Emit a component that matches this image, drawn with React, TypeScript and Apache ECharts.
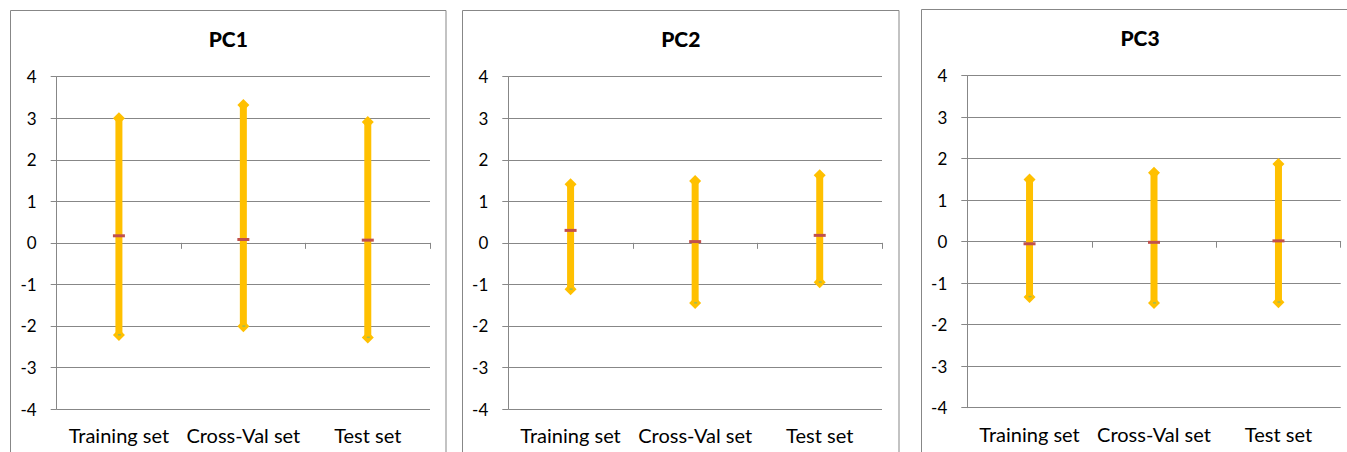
import React, { useEffect, useRef } from "react";
import * as echarts from "echarts";

const categories = ["Training set", "Cross-Val set", "Test set"];
const panelTitles = ["PC1", "PC2", "PC3"];

const pc1High = [3.0, 3.32, 2.91];
const pc1Low = [-2.22, -2.01, -2.28];
const pc1Mean = [0.17, 0.08, 0.065];

const pc2High = [1.41, 1.49, 1.63];
const pc2Low = [-1.12, -1.45, -0.95];
const pc2Mean = [0.3, 0.03, 0.18];

const pc3High = [1.5, 1.66, 1.87];
const pc3Low = [-1.33, -1.48, -1.46];
const pc3Mean = [-0.05, -0.015, 0.02];

const yTicksMin = -4;
const yTicksMax = 4;

const FONT = "Lato, 'Open Sans', sans-serif";
const GRAY = "#878787";

export default function App() {
  const ref = useRef<HTMLDivElement>(null);

  useEffect(() => {
    if (!ref.current) return;
    const chart = echarts.init(ref.current, undefined, { renderer: "svg" });

    const panels = [
      { high: pc1High, low: pc1Low, mean: pc1Mean },
      { high: pc2High, low: pc2Low, mean: pc2Mean },
      { high: pc3High, low: pc3Low, mean: pc3Mean },
    ];

    const gridBoxes = [
      { left: 56.7, top: 76.7, width: 373.3, height: 332.3 },
      { left: 508.3, top: 76.7, width: 373.7, height: 332.3 },
      { left: 967.3, top: 75.7, width: 373.4, height: 332 },
    ];
    const borders = [
      { x: 10.5, y: 10.5, width: 435.5 },
      { x: 462.5, y: 10.5, width: 436.5 },
      { x: 921.5, y: 9.5, width: 437 },
    ];

    const grid = gridBoxes.map((g) => ({ ...g, containLabel: false }));

    const xAxis: any[] = [];
    const yAxis: any[] = [];
    gridBoxes.forEach((_, i) => {
      xAxis.push({
        type: "category",
        gridIndex: i,
        data: categories,
        boundaryGap: true,
        axisLine: { show: true, onZero: true, lineStyle: { color: GRAY, width: 1 } },
        axisTick: { show: true, length: 6, lineStyle: { color: GRAY } },
        axisLabel: { show: false },
        splitLine: { show: false },
      });
      xAxis.push({
        type: "category",
        gridIndex: i,
        data: categories,
        boundaryGap: true,
        position: "bottom",
        axisLine: { show: false, onZero: false },
        axisTick: { show: false },
        axisLabel: {
          show: true,
          interval: 0,
          hideOverlap: false,
          color: "#000",
          fontFamily: FONT,
          fontSize: 20,
          margin: 16,
        },
        splitLine: { show: false },
      });
      yAxis.push({
        type: "value",
        gridIndex: i,
        min: yTicksMin,
        max: yTicksMax,
        interval: 1,
        axisLine: { show: true, lineStyle: { color: GRAY, width: 1 } },
        axisTick: { show: true, length: 6, lineStyle: { color: GRAY } },
        axisLabel: { color: "#000", fontFamily: FONT, fontSize: 17, margin: 20 },
        splitLine: { show: true, lineStyle: { color: GRAY, width: 1 } },
      });
    });

    const series = panels.map((p, i) => ({
      type: "custom",
      xAxisIndex: i * 2,
      yAxisIndex: i,
      encode: { x: 0, y: [1, 2, 3] },
      data: categories.map((_, k) => [k, p.low[k], p.high[k], p.mean[k]]),
      renderItem: (params: any, api: any) => {
        const xi = api.value(0);
        const lo = api.coord([xi, api.value(1)]);
        const hi = api.coord([xi, api.value(2)]);
        const mn = api.coord([xi, api.value(3)]);
        const d = 6;
        const diamond = (c: number[]) => ({
          type: "polygon",
          shape: {
            points: [
              [c[0], c[1] - d],
              [c[0] + d, c[1]],
              [c[0], c[1] + d],
              [c[0] - d, c[1]],
            ],
          },
          style: { fill: "#FFC000" },
        });
        return {
          type: "group",
          children: [
            {
              type: "line",
              shape: { x1: lo[0], y1: lo[1], x2: hi[0], y2: hi[1] },
              style: { stroke: "#FFC000", lineWidth: 7 },
            },
            diamond(hi),
            diamond(lo),
            {
              type: "rect",
              shape: { x: lo[0] - 1, y: lo[1] - 1, width: 3, height: 1.5 },
              style: { fill: "#9BBB59" },
            },
            {
              type: "rect",
              shape: { x: mn[0] - 6, y: mn[1] - 1.5, width: 12, height: 3 },
              style: { fill: "#C0504D" },
            },
          ],
        };
      },
    }));

    const graphic: any[] = [];
    borders.forEach((b, i) => {
      graphic.push({
        type: "rect",
        silent: true,
        z: -1,
        shape: { x: b.x, y: b.y, width: b.width, height: 480 },
        style: { fill: "none", stroke: GRAY, lineWidth: 1 },
      });
      graphic.push({
        type: "text",
        x: b.x + b.width / 2,
        y: 38 - (i === 2 ? 1 : 0),
        style: {
          text: panelTitles[i],
          textAlign: "center",
          textVerticalAlign: "middle",
          font: `900 21px ${FONT}`,
          fill: "#000",
        },
      });
    });

    chart.setOption({
      animation: false,
      backgroundColor: "#fff",
      grid,
      xAxis,
      yAxis,
      series,
      graphic,
    });

    return () => chart.dispose();
  }, []);

  return (
    <div
      ref={ref}
      style={{ position: "fixed", left: 0, top: 0, width: 1347, height: 452 }}
    />
  );
}
